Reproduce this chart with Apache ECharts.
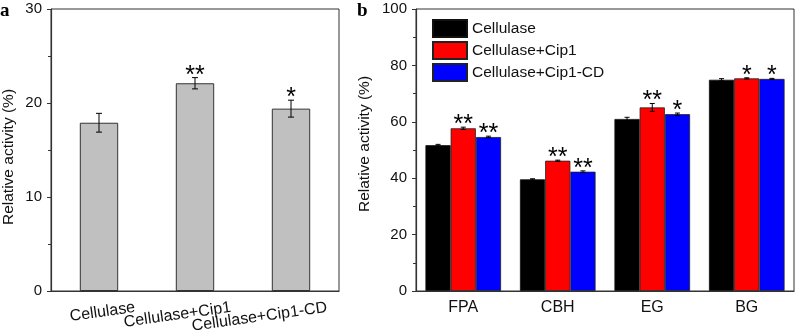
<!DOCTYPE html>
<html>
<head>
<meta charset="utf-8">
<script src="https://cdn.jsdelivr.net/npm/echarts@6/dist/echarts.min.js"></script>
<style>html,body{margin:0;padding:0;background:#fff}#c{width:796px;height:335px}</style>
</head>
<body>
<div id="c"></div>
<script>
// Panel a
var catsA = ['Cellulase', 'Cellulase+Cip1', 'Cellulase+Cip1-CD'];
var valsA = [17.9, 22.1, 19.4];
var errA = [1.0, 0.6, 0.9];
var sigA = ['', '**', '*'];
var ticksA = [0, 10, 20, 30];

// Panel b
var catsB = ['FPA', 'CBH', 'EG', 'BG'];
var seriesNamesB = ['Cellulase', 'Cellulase+Cip1', 'Cellulase+Cip1-CD'];
var valsCellulase = [51.7, 39.6, 61.0, 74.9];
var valsCip1 = [57.7, 46.2, 65.1, 75.4];
var valsCip1CD = [54.6, 42.3, 62.7, 75.2];
var errCellulase = [0.3, 0.2, 0.6, 0.4];
var errCip1 = [0.4, 0.2, 1.4, 0.2];
var errCip1CD = [0.3, 0.3, 0.4, 0.2];
var sigCellulase = ['', '', '', ''];
var sigCip1 = ['**', '**', '**', '*'];
var sigCip1CD = ['**', '**', '*', '*'];
var ticksB = [0, 20, 40, 60, 80, 100];

var FONT = '"Liberation Sans", Arial, sans-serif';
var AX = '#333';

function errRenderer(vals, errs, sigs, idx, n, groupFrac, capHalf) {
  return function (params, api) {
    var i = params.dataIndex;
    var band = api.size([1, 0])[0];
    var bw = band * groupFrac / n;
    var dx = (idx - (n - 1) / 2) * bw;
    var t = api.coord([i, vals[i] + errs[i]]);
    var b = api.coord([i, vals[i] - errs[i]]);
    var x = t[0] + dx;
    var st = { stroke: '#000', lineWidth: 1 };
    var ch = [
      { type: 'line', shape: { x1: x, y1: t[1], x2: x, y2: b[1] }, style: st },
      { type: 'line', shape: { x1: x - capHalf, y1: t[1], x2: x + capHalf, y2: t[1] }, style: st },
      { type: 'line', shape: { x1: x - capHalf, y1: b[1], x2: x + capHalf, y2: b[1] }, style: st }
    ];
    if (sigs[i]) {
      ch.push({ type: 'text', x: x, y: t[1] - 2,
        style: { text: sigs[i], fill: '#000', font: '25px ' + FONT, align: 'center', verticalAlign: 'middle' } });
    }
    return { type: 'group', children: ch };
  };
}

function idxData(n) { var d = []; for (var i = 0; i < n; i++) d.push([i, 0]); return d; }

var chart = echarts.init(document.getElementById('c'), null, { renderer: 'canvas' });

var yCommon = function (max, interval, gap, pad) {
  return {
    type: 'value', min: 0, max: max, interval: interval,
    name: 'Relative activity (%)', nameLocation: 'middle', nameGap: gap,
    nameTextStyle: { fontFamily: FONT, fontSize: 15.5, color: '#111', padding: pad },
    axisLine: { show: true, lineStyle: { color: AX, width: 1.2 } },
    axisTick: { show: true, inside: false, length: 4, lineStyle: { color: AX } },
    minorTick: { show: true, splitNumber: 2, length: 3, lineStyle: { color: AX } },
    splitLine: { show: false },
    axisLabel: { fontFamily: FONT, fontSize: 15, color: '#111', margin: 9 }
  };
};

var option = {
  animation: false,
  backgroundColor: '#fff',
  grid: [
    { left: 51, right: 457, top: 9, bottom: 44, show: true, borderColor: AX, borderWidth: 1 },
    { left: 416, right: 2, top: 9, bottom: 44, show: true, borderColor: AX, borderWidth: 1 }
  ],
  xAxis: [
    { type: 'category', gridIndex: 0, data: catsA,
      axisLine: { lineStyle: { color: AX, width: 1.2 } },
      axisTick: { alignWithLabel: true, length: 4, lineStyle: { color: AX } },
      axisLabel: { show: false } },
    { type: 'category', gridIndex: 1, data: catsB,
      axisLine: { lineStyle: { color: AX, width: 1.2 } },
      axisTick: { alignWithLabel: true, length: 4, lineStyle: { color: AX } },
      axisLabel: { fontFamily: FONT, fontSize: 16, color: '#111', margin: 9 } }
  ],
  yAxis: [
    Object.assign(yCommon(ticksA[ticksA.length - 1], ticksA[1] - ticksA[0], 34, [0, 14, 0, 0]), { gridIndex: 0 }),
    Object.assign(yCommon(ticksB[ticksB.length - 1], ticksB[1] - ticksB[0], 43, [0, 0, 0, 12]), { gridIndex: 1 })
  ],
  legend: {
    data: seriesNamesB, orient: 'vertical', left: 432, top: 19, padding: 0,
    itemWidth: 34, itemHeight: 17, itemGap: 3, icon: 'rect',
    textStyle: { fontFamily: FONT, fontSize: 15.5, color: '#111' }
  },
  graphic: [
    { type: 'text', left: 0, top: 2, style: { text: 'a', font: 'bold 19px "Liberation Serif", serif', fill: '#000' } },
    { type: 'text', left: 357, top: 2, style: { text: 'b', font: 'bold 19px "Liberation Serif", serif', fill: '#000' } }
  ],
  series: [
    { name: 'panelA', type: 'bar', xAxisIndex: 0, yAxisIndex: 0, data: valsA, barWidth: '40%',
      itemStyle: { color: '#c0c0c0', borderColor: '#333', borderWidth: 1 } },
    { name: 'errA', type: 'custom', xAxisIndex: 0, yAxisIndex: 0, data: idxData(valsA.length), z: 5,
      renderItem: errRenderer(valsA, errA, sigA, 0, 1, 0.4, 3) },
    { name: 'labelsA', type: 'custom', xAxisIndex: 0, yAxisIndex: 0, data: idxData(catsA.length), z: 5, clip: false,
      renderItem: function (params, api) {
        var p = api.coord([params.dataIndex, 0]);
        return { type: 'text', x: p[0] + 36, y: p[1] + 16.5, rotation: 8 * Math.PI / 180,
          style: { text: catsA[params.dataIndex], fill: '#111', font: '16px ' + FONT, align: 'right', verticalAlign: 'middle' } };
      } },
    { name: seriesNamesB[0], type: 'bar', xAxisIndex: 1, yAxisIndex: 1, data: valsCellulase,
      barGap: '0%', barCategoryGap: '20%', itemStyle: { color: '#000000', borderColor: '#111', borderWidth: 0.8 } },
    { name: seriesNamesB[1], type: 'bar', xAxisIndex: 1, yAxisIndex: 1, data: valsCip1,
      barGap: '0%', barCategoryGap: '20%', itemStyle: { color: '#ff0000', borderColor: '#222', borderWidth: 0.8 } },
    { name: seriesNamesB[2], type: 'bar', xAxisIndex: 1, yAxisIndex: 1, data: valsCip1CD,
      barGap: '0%', barCategoryGap: '20%', itemStyle: { color: '#0000ff', borderColor: '#222', borderWidth: 0.8 } },
    { name: 'errB0', type: 'custom', xAxisIndex: 1, yAxisIndex: 1, data: idxData(catsB.length), z: 5,
      renderItem: errRenderer(valsCellulase, errCellulase, sigCellulase, 0, 3, 0.8, 2.5) },
    { name: 'errB1', type: 'custom', xAxisIndex: 1, yAxisIndex: 1, data: idxData(catsB.length), z: 5,
      renderItem: errRenderer(valsCip1, errCip1, sigCip1, 1, 3, 0.8, 2.5) },
    { name: 'errB2', type: 'custom', xAxisIndex: 1, yAxisIndex: 1, data: idxData(catsB.length), z: 5,
      renderItem: errRenderer(valsCip1CD, errCip1CD, sigCip1CD, 2, 3, 0.8, 2.5) }
  ]
};
chart.setOption(option);
</script>
</body>
</html>
